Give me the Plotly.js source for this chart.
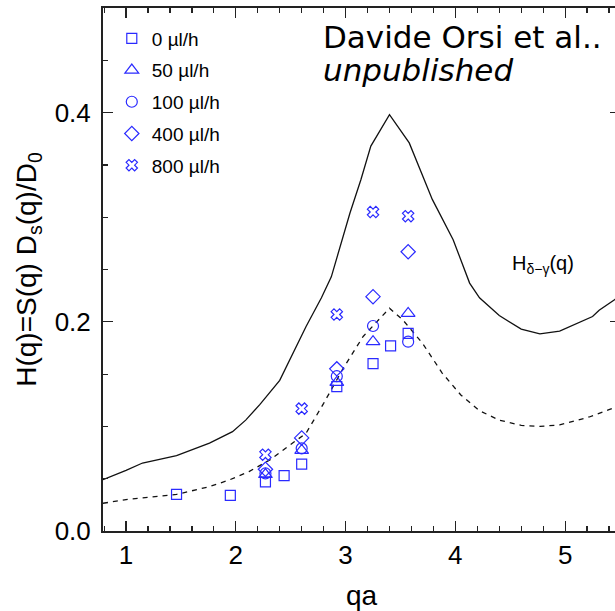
<!DOCTYPE html>
<html>
<head>
<meta charset="utf-8">
<script src="https://cdn.plot.ly/plotly-3.0.1.min.js"></script>
<style>
html, body { margin: 0; padding: 0; overflow: hidden; background: #fff; }
#plot { width: 620px; height: 611px; }
</style>
</head>
<body>
<div id="plot"></div>
<script>
// ---- data ----
var seriesNames = ["0 µl/h", "50 µl/h", "100 µl/h", "400 µl/h", "800 µl/h"];

var qa_0   = [1.46, 1.95, 2.27, 2.44, 2.60, 2.92, 3.25, 3.41, 3.57];
var h_0    = [0.035, 0.034, 0.047, 0.053, 0.064, 0.138, 0.160, 0.177, 0.189];

var qa_50  = [2.27, 2.60, 2.92, 3.25, 3.57];
var h_50   = [0.054, 0.077, 0.142, 0.181, 0.208];

var qa_100 = [2.27, 2.60, 2.92, 3.25, 3.57];
var h_100  = [0.055, 0.079, 0.148, 0.196, 0.181];

var qa_400 = [2.27, 2.60, 2.92, 3.25, 3.57];
var h_400  = [0.059, 0.089, 0.155, 0.224, 0.267];

var qa_800 = [2.27, 2.60, 2.92, 3.25, 3.57];
var h_800  = [0.073, 0.117, 0.207, 0.305, 0.301];

// theoretical curves
var qa_theory = [0.79, 0.85, 1.00, 1.15, 1.46, 1.76, 1.97, 2.09, 2.22, 2.40, 2.64, 2.78, 2.87, 3.04, 3.14, 3.23, 3.40, 3.58, 3.79, 3.98, 4.13, 4.22, 4.40, 4.60, 4.77, 4.95, 5.16, 5.25, 5.31, 5.45, 5.50];
var h_dg      = [0.049, 0.0515, 0.058, 0.065, 0.072, 0.084, 0.095, 0.106, 0.121, 0.144, 0.1955, 0.223, 0.243, 0.304, 0.336, 0.368, 0.398, 0.371, 0.317, 0.2785, 0.237, 0.223, 0.206, 0.193, 0.1885, 0.191, 0.201, 0.205, 0.211, 0.221, 0.226];

var qa_dash = [0.79, 0.85, 1.00, 1.46, 1.76, 1.94, 2.12, 2.31, 2.49, 2.64, 2.80, 2.97, 3.16, 3.40, 3.52, 3.70, 3.88, 4.05, 4.22, 4.40, 4.60, 4.77, 4.95, 5.22, 5.40, 5.50];
var h_dash  = [0.0265, 0.0275, 0.030, 0.035, 0.0424, 0.0488, 0.0568, 0.068, 0.082, 0.0935, 0.122, 0.154, 0.186, 0.213, 0.202, 0.1796, 0.151, 0.130, 0.115, 0.106, 0.101, 0.100, 0.1014, 0.109, 0.116, 0.120];

var xTickVals = [1, 2, 3, 4, 5];
var xTickText = ["1", "2", "3", "4", "5"];
var yTickVals = [0.0, 0.2, 0.4];
var yTickText = ["0.0", "0.2", "0.4"];

// ---- styling ----
var blue = "#2a2aff";
var symbols = ["square-open", "triangle-up-open", "circle-open", "diamond-open", "x-open"];
var sizes = [10, 12, 11, 11, 10];
var xs = [qa_0, qa_50, qa_100, qa_400, qa_800];
var ys = [h_0, h_50, h_100, h_400, h_800];

var traces = [
  { x: qa_theory, y: h_dg, mode: "lines", showlegend: false, hoverinfo: "skip",
    line: { color: "#111", width: 1.3 } },
  { x: qa_dash, y: h_dash, mode: "lines", showlegend: false, hoverinfo: "skip",
    line: { color: "#111", width: 1.3, dash: "5px,5px" } }
];
for (var i = 0; i < 5; i++) {
  traces.push({
    x: xs[i], y: ys[i], mode: "markers", name: seriesNames[i], legendgroup: "g" + i,
    marker: { symbol: symbols[i], size: sizes[i], color: blue, line: { color: blue, width: 1.2 } }
  });
}

var fontFam = "Liberation Sans, Arial, sans-serif";
var layout = {
  width: 620, height: 611,
  margin: { l: 103, r: 0, t: 8, b: 80 },
  paper_bgcolor: "#fff", plot_bgcolor: "#fff",
  font: { family: fontFam, color: "#000" },
  showlegend: true,
  legend: { x: 0.017, y: 0.978, xanchor: "left", yanchor: "top", bgcolor: "rgba(0,0,0,0)",
            font: { family: fontFam, size: 19, color: "#000" }, tracegroupgap: 4, itemwidth: 30 },
  xaxis: {
    range: [0.79, 5.5], showgrid: false, zeroline: false,
    showline: true, linecolor: "#222", linewidth: 2, mirror: "ticks",
    ticks: "inside", ticklen: 10, tickwidth: 1.2, tickcolor: "#222",
    tickmode: "array", tickvals: xTickVals, ticktext: xTickText,
    tickfont: { family: fontFam, size: 26 }, ticklabelstandoff: 0,
    minor: { dtick: 0.2, tick0: 0, ticks: "inside", ticklen: 5, tickwidth: 1.2, tickcolor: "#222", showgrid: false },
    title: { text: "qa", font: { family: fontFam, size: 28 }, standoff: 18 },
    automargin: false
  },
  yaxis: {
    range: [0, 0.5], showgrid: false, zeroline: false,
    showline: true, linecolor: "#222", linewidth: 2, mirror: "ticks",
    ticks: "inside", ticklen: 10, tickwidth: 1.2, tickcolor: "#222",
    tickmode: "array", tickvals: yTickVals, ticktext: yTickText,
    tickfont: { family: fontFam, size: 26 }, ticklabelstandoff: 5,
    minor: { dtick: 0.05, tick0: 0, ticks: "inside", ticklen: 5, tickwidth: 1.2, tickcolor: "#222", showgrid: false },
    title: { text: "H(q)=S(q) D<sub>s</sub>(q)/D<sub>0</sub>", font: { family: fontFam, size: 28 }, standoff: 10 },
    automargin: false
  },
  annotations: [
    { xref: "paper", yref: "paper", x: 0.422, y: 0.945, xanchor: "left", yanchor: "middle",
      text: "Davide Orsi et al..", showarrow: false,
      font: { family: "DejaVu Sans, sans-serif", size: 31, color: "#000" } },
    { xref: "paper", yref: "paper", x: 0.422, y: 0.881, xanchor: "left", yanchor: "middle",
      text: "<i>unpublished</i>", showarrow: false,
      font: { family: "DejaVu Sans, sans-serif", size: 31, color: "#000" } },
    { xref: "paper", yref: "paper", x: 0.788, y: 0.510, xanchor: "left", yanchor: "middle",
      text: "H<sub>δ−γ</sub>(q)", showarrow: false,
      font: { family: fontFam, size: 20, color: "#000" } }
  ]
};

Plotly.newPlot("plot", traces, layout, { displayModeBar: false, staticPlot: true });
</script>
</body>
</html>
